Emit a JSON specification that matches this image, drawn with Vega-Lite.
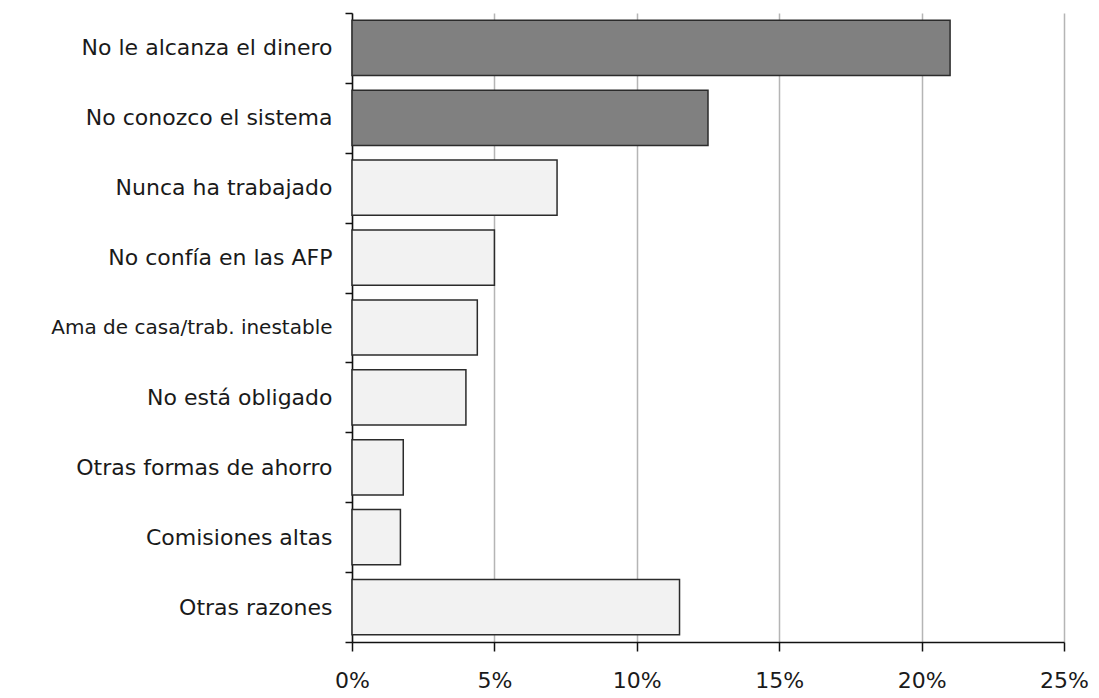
{
  "$schema": "https://vega.github.io/schema/vega-lite/v6.json",
  "autosize": "none",
  "width": 712,
  "height": 629,
  "padding": {"left": 352, "top": 13, "right": 35, "bottom": 56},
  "background": "white",
  "config": {"view": {"stroke": null}, "font": "DejaVu Sans"},
  "data": {"values": [
    {"razon": "No le alcanza el dinero", "pct": 21.0, "grupo": "a"},
    {"razon": "No conozco el sistema", "pct": 12.5, "grupo": "a"},
    {"razon": "Nunca ha trabajado", "pct": 7.2, "grupo": "b"},
    {"razon": "No confía en las AFP", "pct": 5.0, "grupo": "b"},
    {"razon": "Ama de casa/trab. inestable", "pct": 4.4, "grupo": "b"},
    {"razon": "No está obligado", "pct": 4.0, "grupo": "b"},
    {"razon": "Otras formas de ahorro", "pct": 1.8, "grupo": "b"},
    {"razon": "Comisiones altas", "pct": 1.7, "grupo": "b"},
    {"razon": "Otras razones", "pct": 11.5, "grupo": "b"}
  ]},
  "mark": {"type": "bar", "stroke": "#2b2b2b", "strokeWidth": 1.5, "height": {"band": 0.79}},
  "encoding": {
    "y": {
      "field": "razon", "type": "nominal", "sort": null,
      "scale": {"paddingInner": 0, "paddingOuter": 0},
      "axis": {
        "title": null, "tickBand": "extent", "domainColor": "#111", "domainWidth": 1.5,
        "tickColor": "#111", "tickWidth": 1.5, "tickSize": 7,
        "labelFontSize": {"condition": {"test": "datum.value == 'Ama de casa/trab. inestable'", "value": 20}, "value": 22},
        "labelColor": "#1a1a1a", "labelPadding": 13, "labelLimit": 400
      }
    },
    "x": {
      "field": "pct", "type": "quantitative",
      "scale": {"domain": [0, 25], "nice": false},
      "axis": {
        "title": null, "values": [0, 5, 10, 15, 20, 25], "labelExpr": "datum.value + '%'",
        "grid": true, "gridColor": "#b5b5b5", "gridWidth": 1.5,
        "domainColor": "#111", "domainWidth": 1.5, "tickColor": "#111", "tickWidth": 1.5, "tickSize": 9,
        "labelFontSize": 22, "labelColor": "#1a1a1a", "labelPadding": 19, "labelFlush": false
      }
    },
    "color": {
      "field": "grupo", "type": "nominal",
      "scale": {"domain": ["a", "b"], "range": ["#808080", "#f2f2f2"]},
      "legend": null
    }
  }
}
